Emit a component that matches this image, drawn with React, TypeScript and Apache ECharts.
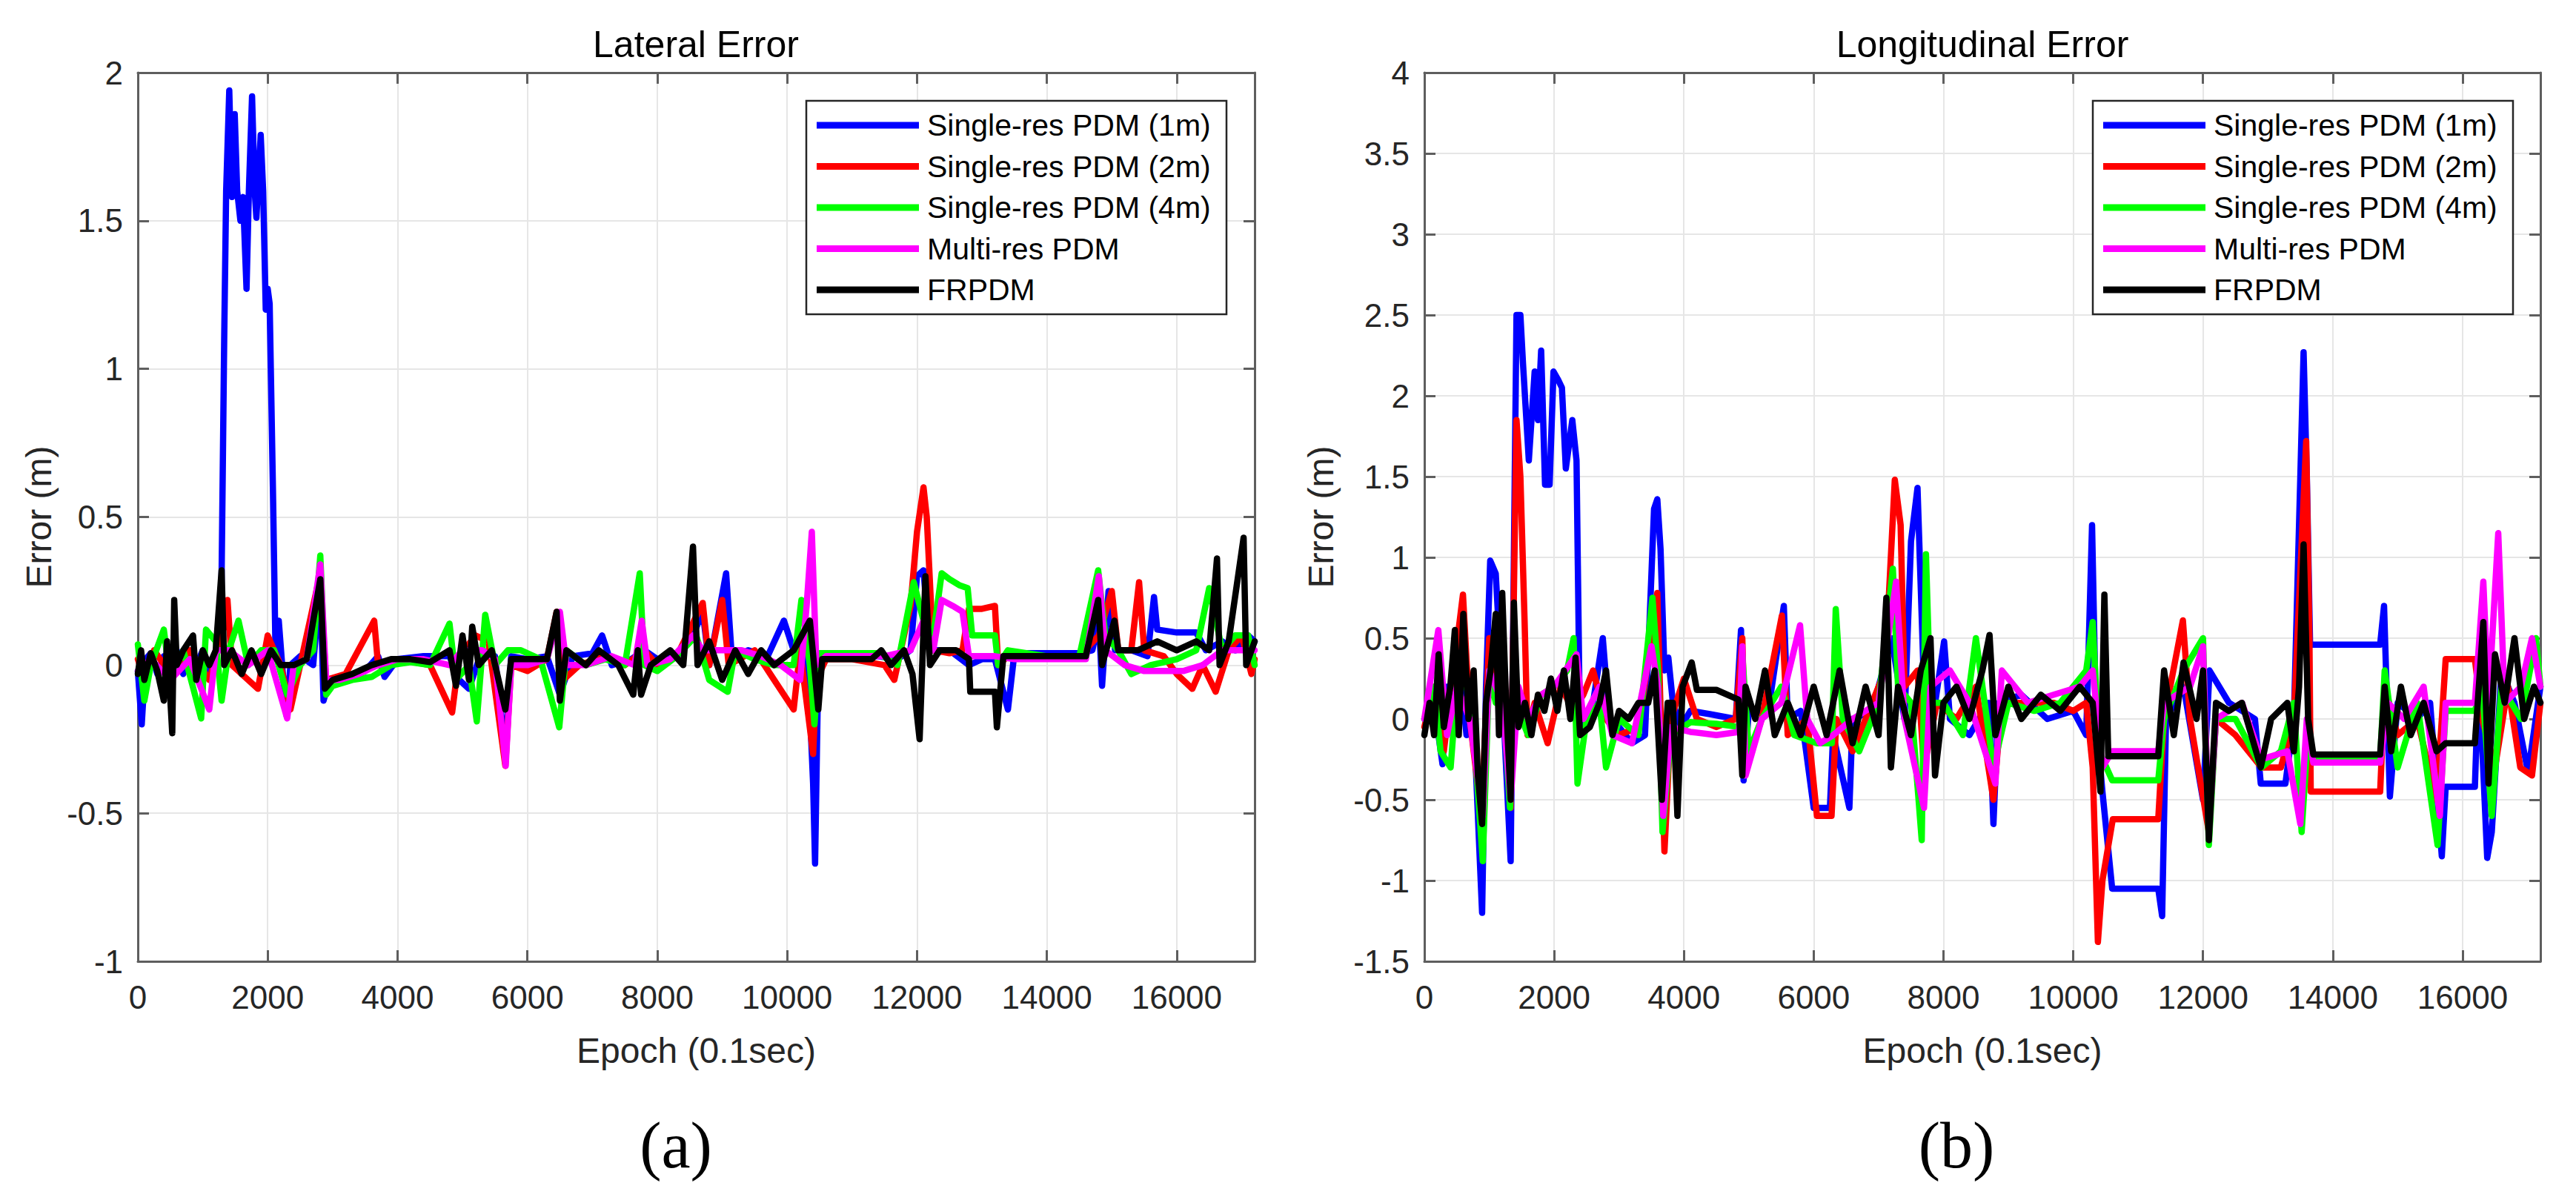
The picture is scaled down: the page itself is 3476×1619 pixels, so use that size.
import React, { useEffect, useRef } from "react";
import * as echarts from "echarts";

// ---------- data (epoch, error in m) ----------
const seriesNames = [
  "Single-res PDM (1m)",
  "Single-res PDM (2m)",
  "Single-res PDM (4m)",
  "Multi-res PDM",
  "FRPDM",
];
const seriesColors = ["#0000ff", "#ff0000", "#00ff00", "#ff00ff", "#000000"];

const xTicks = [0, 2000, 4000, 6000, 8000, 10000, 12000, 14000, 16000];

// Lateral error
const latBlue = [[0,-0.02],[60,-0.2],[120,0.02],[200,0.04],[300,-0.03],[400,0.03],[500,-0.05],[600,0.05],[700,-0.03],[800,0.04],[900,0.0],[1000,0.05],[1100,-0.02],[1200,0.03],[1280,0.1],[1330,1.1],[1360,1.6],[1408,1.94],[1450,1.58],[1492,1.86],[1530,1.6],[1580,1.5],[1620,1.58],[1674,1.27],[1710,1.6],[1759,1.92],[1800,1.6],[1826,1.51],[1860,1.65],[1892,1.79],[1930,1.6],[1970,1.2],[2000,1.27],[2030,1.22],[2080,0.6],[2120,0.05],[2170,0.15],[2230,-0.02],[2290,-0.17],[2350,0.0],[2500,0.03],[2700,0.0],[2810,0.28],[2860,-0.12],[2950,-0.05],[3200,-0.04],[3500,-0.02],[3700,0.03],[3800,-0.04],[4000,0.02],[4400,0.03],[4800,0.03],[4950,-0.05],[5100,-0.08],[5300,0.05],[5500,0.03],[5660,-0.3],[5750,0.03],[6000,0.02],[6300,0.03],[6500,-0.1],[6700,0.03],[7000,0.04],[7150,0.1],[7300,0.0],[7600,0.02],[7800,0.05],[8000,0.02],[8300,0.03],[8550,0.1],[8700,0.18],[8800,0.0],[9060,0.31],[9150,0.02],[9400,0.05],[9700,0.03],[9950,0.15],[10100,0.05],[10300,0.1],[10400,-0.4],[10430,-0.67],[10480,0.0],[10600,0.03],[11000,0.03],[11400,0.03],[11700,0.02],[11900,0.05],[12000,0.3],[12100,0.32],[12200,0.05],[12500,0.05],[12800,0.0],[13000,0.02],[13200,0.02],[13400,-0.15],[13500,0.04],[14000,0.04],[14500,0.04],[14700,0.05],[14800,0.15],[14850,-0.07],[14950,0.25],[15050,0.05],[15300,0.05],[15550,0.03],[15650,0.23],[15700,0.12],[16000,0.11],[16300,0.11],[16450,0.05],[16700,0.08],[16900,0.05],[17100,0.1],[17200,0.08]];
const latRed = [[0,0.02],[100,-0.05],[250,0.05],[500,-0.03],[800,0.05],[1100,-0.05],[1300,0.1],[1380,0.22],[1450,0.0],[1700,-0.05],[1850,-0.08],[2000,0.1],[2200,0.0],[2350,-0.15],[2500,0.0],[2800,0.3],[2900,-0.05],[3200,-0.03],[3640,0.15],[3700,0.0],[4000,0.02],[4500,0.0],[4840,-0.16],[4950,0.03],[5200,0.1],[5400,0.08],[5660,-0.34],[5750,0.0],[6000,-0.02],[6300,0.02],[6450,0.18],[6550,-0.05],[6800,0.0],[7200,0.03],[7500,0.0],[7800,0.05],[8000,0.0],[8300,0.03],[8700,0.21],[8800,0.0],[9000,0.22],[9100,0.0],[9500,0.05],[9800,-0.05],[10100,-0.15],[10200,0.05],[10400,-0.3],[10450,-0.05],[10600,0.02],[11000,0.02],[11500,0.0],[11650,-0.05],[11900,0.2],[12000,0.45],[12100,0.6],[12150,0.5],[12250,0.05],[12500,0.04],[12700,0.05],[12800,0.19],[13000,0.19],[13200,0.2],[13250,0.0],[13400,0.03],[14000,0.03],[14500,0.03],[14800,0.1],[15000,0.25],[15100,0.05],[15300,0.05],[15420,0.28],[15500,0.05],[15800,0.03],[16000,-0.03],[16240,-0.08],[16400,0.0],[16600,-0.09],[16800,0.05],[17000,0.1],[17150,-0.03],[17200,0.02]];
const latGreen = [[0,0.07],[100,-0.12],[200,0.0],[400,0.12],[500,-0.05],[700,0.05],[975,-0.18],[1050,0.12],[1200,0.08],[1290,-0.12],[1400,0.05],[1550,0.15],[1700,0.0],[1900,0.05],[2100,0.05],[2300,-0.1],[2500,0.0],[2700,0.05],[2810,0.37],[2900,-0.1],[3000,-0.07],[3300,-0.05],[3600,-0.04],[3900,0.0],[4200,0.01],[4500,0.0],[4800,0.14],[4900,-0.05],[5100,0.0],[5220,-0.19],[5350,0.17],[5500,0.0],[5700,0.05],[5900,0.05],[6200,0.02],[6490,-0.21],[6600,0.05],[6900,0.0],[7200,0.02],[7500,0.0],[7730,0.31],[7800,0.0],[8000,-0.02],[8300,0.03],[8600,0.1],[8800,-0.05],[9085,-0.09],[9200,0.05],[9500,0.02],[9800,0.0],[10100,0.0],[10220,0.22],[10350,0.0],[10420,-0.2],[10500,0.04],[11000,0.04],[11400,0.04],[11700,0.0],[11950,0.28],[12100,0.15],[12250,0.1],[12380,0.31],[12500,0.29],[12650,0.27],[12780,0.26],[12850,0.1],[13200,0.1],[13250,0.0],[13400,0.05],[14000,0.03],[14500,0.03],[14790,0.32],[14900,0.1],[15100,0.05],[15300,-0.03],[15600,0.0],[16000,0.02],[16300,0.05],[16500,0.26],[16700,0.05],[16900,0.1],[17100,0.1],[17200,0.0]];
const latMagenta = [[0,-0.02],[200,0.02],[500,-0.05],[800,0.02],[1100,-0.15],[1200,0.05],[1400,0.05],[1700,0.0],[2000,0.05],[2300,-0.18],[2400,0.0],[2600,0.02],[2810,0.34],[2900,-0.05],[3100,-0.05],[3400,-0.03],[3700,0.0],[4000,0.02],[4400,0.02],[4800,0.0],[5000,0.05],[5300,0.05],[5500,0.02],[5665,-0.34],[5750,0.0],[6000,0.0],[6300,0.02],[6500,0.18],[6600,0.0],[6900,0.0],[7300,0.03],[7650,0.0],[7760,0.15],[7850,0.0],[8200,0.02],[8550,0.1],[8700,0.05],[9000,0.05],[9300,0.05],[9600,0.03],[9900,0.0],[10200,-0.05],[10300,0.2],[10380,0.45],[10450,0.0],[10600,0.03],[11000,0.03],[11500,0.03],[11900,0.05],[12100,0.15],[12250,0.05],[12380,0.22],[12550,0.2],[12700,0.18],[12800,0.03],[13200,0.03],[13500,0.02],[14000,0.02],[14600,0.02],[14800,0.3],[14900,0.05],[15200,0.0],[15500,-0.02],[15800,-0.02],[16100,-0.02],[16400,0.0],[16700,0.05],[17000,0.05],[17200,0.05]];
const latBlack = [[0,-0.03],[50,0.05],[100,-0.05],[200,0.04],[300,-0.02],[400,-0.12],[450,0.08],[530,-0.23],[560,0.22],[600,0.0],[700,0.05],[850,0.1],[900,-0.05],[1000,0.05],[1100,0.0],[1200,0.05],[1290,0.32],[1330,0.0],[1450,0.05],[1600,-0.03],[1750,0.05],[1900,-0.03],[2050,0.05],[2200,0.0],[2400,0.0],[2600,0.02],[2810,0.29],[2880,-0.08],[3000,-0.05],[3300,-0.03],[3600,0.0],[3900,0.02],[4200,0.02],[4500,0.01],[4800,0.05],[4900,-0.07],[5000,0.1],[5100,-0.05],[5150,0.13],[5250,0.0],[5450,0.05],[5660,-0.15],[5750,0.02],[6000,0.02],[6300,0.02],[6450,0.18],[6500,-0.12],[6600,0.05],[6900,0.0],[7100,0.05],[7400,0.0],[7630,-0.1],[7700,0.05],[7750,-0.1],[7900,0.0],[8200,0.05],[8400,0.0],[8550,0.4],[8620,0.0],[8800,0.08],[9000,-0.05],[9200,0.05],[9400,-0.03],[9600,0.05],[9800,0.0],[10100,0.05],[10350,0.15],[10480,-0.15],[10540,0.02],[11000,0.02],[11300,0.02],[11450,0.05],[11600,0.0],[11800,0.05],[11930,-0.03],[12040,-0.25],[12130,0.3],[12200,0.0],[12350,0.05],[12600,0.05],[12800,0.02],[12820,-0.09],[13200,-0.09],[13230,-0.21],[13330,0.03],[13700,0.03],[14200,0.03],[14600,0.03],[14790,0.22],[14850,0.0],[15040,0.15],[15100,0.05],[15400,0.05],[15700,0.08],[16000,0.05],[16300,0.08],[16500,0.05],[16620,0.36],[16660,0.0],[16800,0.08],[17030,0.43],[17070,0.0],[17200,0.08]];

// Longitudinal error
const lonBlue = [[0,0.0],[100,0.1],[200,-0.05],[280,-0.28],[350,0.2],[450,-0.1],[550,0.3],[650,-0.1],[750,0.1],[890,-1.2],[950,0.2],[1015,0.98],[1100,0.9],[1230,-0.05],[1330,-0.88],[1380,1.0],[1420,2.5],[1480,2.5],[1520,2.2],[1610,1.6],[1700,2.15],[1750,1.85],[1800,2.28],[1860,1.45],[1930,1.45],[1990,2.15],[2060,2.1],[2120,2.05],[2180,1.55],[2280,1.85],[2345,1.6],[2395,0.0],[2500,-0.05],[2600,0.1],[2750,0.5],[2850,0.0],[3000,-0.05],[3200,-0.15],[3400,-0.1],[3540,1.3],[3590,1.36],[3640,1.05],[3700,0.3],[3760,0.38],[3830,0.1],[3950,-0.05],[4100,0.05],[4400,0.03],[4800,0.0],[4880,0.55],[4920,-0.38],[5000,0.05],[5300,0.05],[5540,0.7],[5600,0.0],[5800,0.05],[6000,-0.55],[6250,-0.55],[6300,-0.1],[6550,-0.55],[6600,0.0],[6900,0.05],[7200,0.5],[7400,0.0],[7500,1.1],[7600,1.43],[7700,0.2],[7800,-0.1],[8010,0.48],[8100,0.0],[8400,-0.1],[8700,0.1],[8770,-0.65],[8850,0.1],[9200,0.15],[9600,0.0],[10000,0.05],[10200,-0.1],[10290,1.2],[10350,0.0],[10450,-0.45],[10600,-1.05],[11000,-1.05],[11310,-1.05],[11370,-1.22],[11430,0.0],[11700,0.2],[12000,-0.5],[12100,0.3],[12400,0.1],[12800,0.0],[12890,-0.4],[13270,-0.4],[13400,0.0],[13500,1.5],[13550,2.27],[13600,1.5],[13650,0.46],[14000,0.46],[14400,0.46],[14730,0.46],[14790,0.7],[14880,-0.48],[15000,0.1],[15300,0.0],[15500,0.1],[15680,-0.85],[15740,-0.42],[16190,-0.42],[16250,0.3],[16380,-0.86],[16450,-0.7],[16600,0.3],[16800,0.1],[17010,-0.33],[17200,0.2]];
const lonRed = [[0,-0.05],[150,0.2],[300,-0.2],[450,0.3],[595,0.77],[700,0.0],[880,-0.6],[1000,0.5],[1100,0.3],[1250,0.0],[1330,-0.55],[1420,1.85],[1480,1.5],[1545,0.6],[1590,-0.1],[1700,0.1],[1900,-0.15],[2100,0.2],[2300,0.05],[2450,0.15],[2600,0.3],[2800,0.0],[3000,-0.1],[3300,-0.05],[3500,0.5],[3590,0.78],[3700,-0.82],[3800,0.0],[4000,0.25],[4200,0.0],[4500,-0.05],[4800,0.0],[4900,0.5],[4950,-0.3],[5200,0.0],[5510,0.64],[5600,-0.1],[5900,0.0],[6050,-0.6],[6275,-0.6],[6350,0.0],[6600,-0.2],[6900,0.1],[7100,0.3],[7250,1.48],[7340,1.2],[7400,0.2],[7600,0.3],[7700,-0.3],[7900,0.1],[8200,0.0],[8500,0.2],[8770,-0.5],[8900,0.1],[9300,0.1],[9700,0.1],[10000,0.05],[10200,0.1],[10300,-0.3],[10380,-1.38],[10450,-1.0],[10610,-0.62],[11000,-0.62],[11310,-0.62],[11400,0.0],[11690,0.61],[11800,0.0],[12090,-0.7],[12200,0.0],[12500,-0.1],[12900,-0.3],[13200,-0.3],[13400,0.0],[13590,1.72],[13640,0.5],[13660,-0.45],[14000,-0.45],[14400,-0.45],[14730,-0.45],[14800,0.2],[15000,-0.1],[15300,0.0],[15600,-0.5],[15740,0.37],[16190,0.37],[16300,0.0],[16500,-0.3],[16700,0.2],[16890,-0.3],[17070,-0.35],[17200,0.1]];
const lonGreen = [[0,0.0],[150,0.2],[250,-0.2],[405,-0.3],[500,0.2],[600,0.3],[750,0.0],[900,-0.88],[1000,0.3],[1100,0.1],[1200,0.2],[1320,-0.55],[1400,0.1],[1600,-0.1],[1800,0.15],[2000,0.2],[2200,0.3],[2300,0.5],[2360,-0.4],[2500,0.0],[2700,0.1],[2800,-0.3],[3000,0.0],[3300,-0.1],[3515,0.75],[3600,0.3],[3670,-0.7],[3800,-0.1],[4100,-0.02],[4500,-0.03],[4850,-0.05],[4900,0.4],[5000,-0.2],[5200,0.0],[5500,0.2],[5700,-0.1],[6050,-0.15],[6280,-0.15],[6340,0.68],[6450,0.0],[6700,-0.2],[7000,0.1],[7220,0.93],[7300,0.2],[7500,0.1],[7665,-0.75],[7730,1.02],[7800,0.1],[8000,0.1],[8300,-0.1],[8500,0.5],[8770,-0.3],[9000,0.1],[9400,0.05],[9800,0.1],[10200,0.3],[10300,0.6],[10400,-0.2],[10600,-0.38],[11000,-0.38],[11310,-0.38],[11400,0.0],[11700,0.3],[12000,0.5],[12090,-0.78],[12200,0.0],[12500,0.0],[12900,-0.3],[13200,-0.2],[13400,0.1],[13520,-0.7],[13600,-0.2],[13700,-0.25],[14300,-0.25],[14730,-0.25],[14800,0.3],[15000,-0.3],[15300,0.1],[15615,-0.78],[15740,0.05],[16190,0.05],[16300,0.2],[16450,-0.6],[16600,0.2],[16900,0.0],[17130,0.5],[17200,0.2]];
const lonMagenta = [[0,0.0],[215,0.55],[350,-0.1],[500,0.2],[700,0.0],[900,-0.6],[1000,0.3],[1200,0.1],[1330,-0.5],[1450,0.2],[1600,0.0],[1800,0.15],[2000,0.2],[2345,0.4],[2450,0.0],[2700,0.2],[2900,-0.1],[3200,-0.15],[3500,0.45],[3600,0.2],[3680,-0.6],[3800,-0.05],[4100,-0.08],[4500,-0.1],[4850,-0.08],[4900,0.45],[4950,-0.35],[5200,0.0],[5500,0.1],[5790,0.58],[5900,0.0],[6100,-0.15],[6300,-0.1],[6600,0.0],[7000,0.1],[7270,0.85],[7400,0.0],[7700,-0.55],[7800,0.2],[8100,0.3],[8400,0.1],[8800,-0.4],[8900,0.3],[9300,0.1],[9700,0.15],[10100,0.2],[10300,0.3],[10450,-0.3],[10600,-0.2],[11000,-0.2],[11310,-0.2],[11400,0.1],[11800,0.2],[12000,0.45],[12090,-0.7],[12200,0.0],[12600,0.1],[12900,-0.25],[13300,-0.2],[13500,-0.65],[13600,0.0],[13700,-0.27],[14300,-0.27],[14730,-0.27],[14850,0.1],[15100,0.0],[15400,0.2],[15650,-0.6],[15740,0.1],[16190,0.1],[16320,0.85],[16400,0.1],[16550,1.15],[16650,0.1],[16900,0.2],[17070,0.5],[17200,0.2]];
const lonBlack = [[0,-0.1],[80,0.1],[150,-0.1],[220,0.4],[300,-0.05],[400,0.2],[470,0.55],[530,-0.1],[600,0.65],[680,0.0],[760,0.3],[825,-0.35],[890,-0.65],[950,0.1],[1020,0.3],[1100,0.65],[1150,-0.1],[1200,0.78],[1260,0.1],[1330,-0.5],[1380,0.72],[1450,-0.05],[1550,0.1],[1650,-0.1],[1750,0.15],[1850,0.05],[1950,0.25],[2050,0.05],[2150,0.3],[2250,0.0],[2330,0.38],[2400,-0.1],[2550,-0.05],[2700,0.1],[2800,0.3],[2900,-0.1],[3000,0.05],[3150,0.0],[3300,0.1],[3450,0.1],[3550,0.3],[3660,-0.5],[3750,0.1],[3830,0.1],[3900,-0.6],[3980,0.2],[4120,0.35],[4200,0.18],[4500,0.18],[4840,0.12],[4900,-0.35],[4950,0.2],[5100,0.0],[5250,0.3],[5400,-0.1],[5600,0.1],[5800,-0.1],[6000,0.2],[6200,-0.1],[6400,0.3],[6600,-0.15],[6800,0.2],[7000,-0.1],[7120,0.75],[7190,-0.3],[7300,0.2],[7500,-0.1],[7650,0.3],[7800,0.5],[7870,-0.35],[8000,0.1],[8200,0.2],[8400,0.0],[8600,0.3],[8710,0.52],[8800,-0.1],[9000,0.2],[9200,0.0],[9500,0.15],[9800,0.05],[10100,0.2],[10300,0.1],[10420,-0.45],[10480,0.77],[10540,-0.23],[11000,-0.23],[11310,-0.23],[11400,0.3],[11550,-0.1],[11700,0.35],[11900,0.0],[12000,0.3],[12090,-0.75],[12200,0.1],[12400,0.05],[12600,0.1],[12890,-0.3],[13050,0.0],[13300,0.1],[13400,-0.2],[13480,0.2],[13550,1.08],[13620,0.0],[13700,-0.22],[14200,-0.22],[14730,-0.22],[14800,0.2],[14900,-0.2],[15050,0.2],[15200,-0.1],[15400,0.1],[15600,-0.2],[15740,-0.15],[16190,-0.15],[16320,0.6],[16400,-0.4],[16500,0.4],[16650,0.1],[16800,0.5],[16950,0.0],[17100,0.2],[17200,0.1]];

const latData = [latBlue, latRed, latGreen, latMagenta, latBlack];
const lonData = [lonBlue, lonRed, lonGreen, lonMagenta, lonBlack];

// ---------- styling ----------
const FONT = "'Liberation Sans', Arial, Helvetica, sans-serif";
const TXT = "#262626";
const AXIS_COLOR = "#5e5e5e";
const GRID_COLOR = "#e6e6e6";

const G1 = { left: 186, top: 98, width: 1507, height: 1199 };
const G2 = { left: 1922, top: 98, width: 1506, height: 1199 };

function xAxisPair(gridIndex: number) {
  const base = {
    type: "value",
    gridIndex,
    min: 0,
    max: 17200,
    interval: 2000,
    axisLine: { show: true, onZero: false, lineStyle: { color: AXIS_COLOR, width: 3 } },
    axisTick: { show: true, inside: true, length: 15, lineStyle: { color: AXIS_COLOR, width: 3 } },
  };
  return [
    {
      ...base,
      position: "bottom",
      axisLabel: {
        show: true,
        fontSize: 44,
        fontFamily: FONT,
        color: TXT,
        margin: 26,
        showMaxLabel: false,
        formatter: (v: number) => (xTicks.includes(v) ? String(v) : ""),
      },
      splitLine: { show: true, lineStyle: { color: GRID_COLOR, width: 2 } },
      name: "Epoch (0.1sec)",
      nameLocation: "middle",
      nameGap: 96,
      nameTextStyle: { fontSize: 48, fontFamily: FONT, color: TXT },
    },
    {
      ...base,
      position: "top",
      axisLabel: { show: false },
      splitLine: { show: false },
    },
  ];
}

function yAxisPair(gridIndex: number, min: number, max: number, nameGap: number) {
  const base = {
    type: "value",
    gridIndex,
    min,
    max,
    interval: 0.5,
    axisLine: { show: true, onZero: false, lineStyle: { color: AXIS_COLOR, width: 3 } },
    axisTick: { show: true, inside: true, length: 15, lineStyle: { color: AXIS_COLOR, width: 3 } },
  };
  return [
    {
      ...base,
      position: "left",
      axisLabel: { show: true, fontSize: 44, fontFamily: FONT, color: TXT, margin: 20 },
      splitLine: { show: true, lineStyle: { color: GRID_COLOR, width: 2 } },
      name: "Error (m)",
      nameLocation: "middle",
      nameGap,
      nameTextStyle: { fontSize: 48, fontFamily: FONT, color: TXT },
    },
    {
      ...base,
      position: "right",
      axisLabel: { show: false },
      splitLine: { show: false },
    },
  ];
}

function makeSeries(data: number[][][], axisIndex: number) {
  return data.map((d, i) => ({
    name: seriesNames[i],
    type: "line",
    xAxisIndex: axisIndex,
    yAxisIndex: axisIndex,
    data: d,
    showSymbol: false,
    symbol: "none",
    color: seriesColors[i],
    itemStyle: { color: seriesColors[i] },
    lineStyle: { color: seriesColors[i], width: 8.5, join: "round", cap: "round" },
    emphasis: { disabled: true },
    silent: true,
    z: 2 + i * 0.01,
  }));
}

function makeLegend(left: number) {
  return {
    show: true,
    orient: "vertical",
    left,
    top: 147,
    padding: 0,
    itemWidth: 138,
    itemHeight: 9,
    itemGap: 11.5,
    icon: "rect",
    z: 20,
    data: seriesNames,
    selectedMode: false,
    textStyle: { fontSize: 41, lineHeight: 44, fontFamily: FONT, color: "#000", padding: [0, 0, 0, 6] },
  };
}

function legendBox(x: number) {
  return {
    type: "rect",
    z: 10,
    shape: { x, y: 136, width: 567, height: 288 },
    style: { fill: "#ffffff", stroke: TXT, lineWidth: 2.5 },
  };
}

function label(text: string, x: number, y: number, size: number, family: string) {
  return {
    type: "text",
    x,
    y,
    z: 10,
    style: {
      text,
      fontSize: size,
      fontFamily: family,
      fill: "#000",
      align: "center",
      verticalAlign: "middle",
      textAlign: "center",
      textVerticalAlign: "middle",
    },
  };
}

export default function App() {
  const ref = useRef<HTMLDivElement>(null);
  useEffect(() => {
    if (!ref.current) return;
    const chart = echarts.init(ref.current, undefined, { renderer: "svg" });
    const option = {
      animation: false,
      backgroundColor: "#ffffff",
      grid: [
        { ...G1, containLabel: false, show: false },
        { ...G2, containLabel: false, show: false },
      ],
      xAxis: [...xAxisPair(0), ...xAxisPair(1)],
      yAxis: [...yAxisPair(0, -1, 2, 110), ...yAxisPair(1, -1.5, 4, 116)],
      legend: [makeLegend(1102), makeLegend(2838)],
      series: [...makeSeries(latData, 0), ...makeSeries(lonData, 2)],
      graphic: [
        legendBox(1088),
        legendBox(2824),
        label("Lateral Error", 939, 60, 50, FONT),
        label("Longitudinal Error", 2675, 60, 50, FONT),
        label("(a)", 912, 1545, 88, "'Liberation Serif', 'Times New Roman', serif"),
        label("(b)", 2640, 1545, 88, "'Liberation Serif', 'Times New Roman', serif"),
      ],
    };
    chart.setOption(option as any);
    return () => chart.dispose();
  }, []);
  return (
    <div
      ref={ref}
      style={{ position: "absolute", left: 0, top: 0, width: 3476, height: 1619, background: "#fff" }}
    />
  );
}
